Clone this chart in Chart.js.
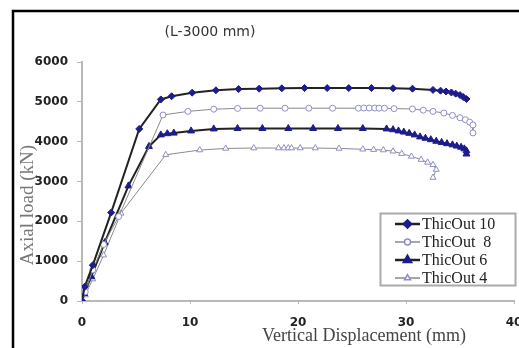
<!DOCTYPE html>
<html>
<head>
<meta charset="utf-8">
<script src="https://cdn.jsdelivr.net/npm/chart.js@4.4.1/dist/chart.umd.min.js"></script>
<style>
  body { margin: 0; background: #fff; }
  canvas { display: block; }
</style>
</head>
<body>
<canvas id="myChart" width="519" height="348"></canvas>
<script>
// values (x = vertical displacement in mm, y = axial load in kN)
var labels = ["ThicOut 10", "ThicOut  8", "ThicOut 6", "ThicOut 4"];

var t10x = [0, 0.25, 1.0, 2.7, 5.3, 7.3, 8.3, 10.2, 12.4, 14.5, 16.4, 18.5, 20.6, 22.7, 24.7, 26.8, 28.8, 30.6, 32.5, 33.2, 33.7, 34.2, 34.6, 35.0, 35.3, 35.6];
var t10y = [0, 360, 900, 2220, 4320, 5060, 5140, 5230, 5290, 5320, 5330, 5340, 5345, 5345, 5345, 5345, 5340, 5330, 5300, 5280, 5260, 5235, 5205, 5170, 5120, 5070];

var t8x = [0, 0.3, 1.0, 2.0, 3.4, 7.5, 9.8, 12.2, 14.4, 16.5, 18.8, 21.0, 23.2, 25.6, 26.1, 26.6, 27.1, 27.5, 28.0, 28.9, 30.6, 31.6, 32.5, 33.5, 34.3, 35.0, 35.5, 35.9, 36.2, 36.2];
var t8y = [0, 230, 780, 1420, 2120, 4670, 4760, 4815, 4835, 4840, 4840, 4840, 4840, 4840, 4845, 4845, 4845, 4840, 4840, 4830, 4820, 4790, 4760, 4720, 4660, 4600, 4550, 4490, 4420, 4220];

var t6x = [0, 0.2, 0.86, 2.1, 4.3, 6.2, 7.3, 7.9, 8.5, 10.1, 12.2, 14.4, 16.7, 19.1, 21.4, 23.7, 26.0, 28.2, 28.8, 29.3, 29.8, 30.3, 30.8, 31.3, 31.8, 32.3, 32.8, 33.3, 33.8, 34.3, 34.7, 35.1, 35.4, 35.6, 35.6];
var t6y = [0, 190, 610, 1465, 2890, 3880, 4170, 4200, 4215, 4270, 4320, 4330, 4330, 4330, 4330, 4330, 4330, 4320, 4300, 4270, 4240, 4210, 4170, 4120, 4085, 4050, 4010, 3980, 3950, 3920, 3890, 3860, 3820, 3770, 3690];

var t4x = [0, 0.3, 1.0, 2.0, 3.6, 7.75, 10.9, 13.3, 15.9, 18.2, 18.7, 19.1, 19.4, 20.2, 21.6, 23.8, 26.0, 27.0, 27.9, 28.8, 29.6, 30.5, 31.4, 32.0, 32.5, 32.8, 32.5];
var t4y = [0, 150, 550, 1150, 2200, 3670, 3790, 3830, 3840, 3840, 3840, 3840, 3840, 3840, 3840, 3830, 3810, 3800, 3790, 3760, 3700, 3630, 3550, 3480, 3420, 3300, 3100];

var xTicks = [0, 10, 20, 30, 40];
var yTicks = [0, 1000, 2000, 3000, 4000, 5000, 6000];

function pts(xs, ys) {
  return xs.map(function (x, i) { return { x: x, y: ys[i] }; });
}

var navy = '#1c1c8c';
var light = '#8e8ec6';

// frame, title, axis titles and legend
var decor = {
  id: 'decor',
  afterDraw: function (chart) {
    var ctx = chart.ctx;
    ctx.save();
    // black frame (left and top)
    ctx.strokeStyle = '#000';
    ctx.lineWidth = 2.5;
    ctx.beginPath();
    ctx.moveTo(13, 348);
    ctx.lineTo(13, 11);
    ctx.lineTo(519, 11);
    ctx.stroke();

    ctx.fillStyle = '#333';
    ctx.font = '14px "DejaVu Sans"';
    ctx.textAlign = 'center';
    ctx.textBaseline = 'middle';
    ctx.fillText('(L-3000 mm)', 210, 32);

    ctx.fillStyle = '#444';
    ctx.font = '18px "Liberation Serif"';
    ctx.fillText('Vertical Displacement (mm)', 364, 336);

    ctx.save();
    ctx.translate(28, 205);
    ctx.rotate(-Math.PI / 2);
    ctx.fillStyle = '#777';
    ctx.font = '19px "Liberation Serif"';
    ctx.fillText('Axial load (kN)', 0, 0);
    ctx.restore();

    // legend
    ctx.fillStyle = '#fff';
    ctx.fillRect(380.5, 213.5, 135, 72);
    ctx.strokeStyle = '#aaa';
    ctx.lineWidth = 2;
    ctx.strokeRect(380.5, 213.5, 135, 72);
    chart.data.datasets.forEach(function (ds, i) {
      var y = 224 + i * 18;
      ctx.strokeStyle = ds.borderColor;
      ctx.lineWidth = ds.borderWidth + 0.5;
      ctx.beginPath();
      ctx.moveTo(395, y);
      ctx.lineTo(420, y);
      ctx.stroke();
      ctx.fillStyle = ds.pointBackgroundColor;
      ctx.strokeStyle = ds.pointBorderColor;
      Chart.helpers.drawPoint(ctx, {
        pointStyle: ds.pointStyle, rotation: 0,
        radius: ds.pointRadius, borderWidth: ds.pointBorderWidth
      }, 407.5, y);
      ctx.fillStyle = '#222';
      ctx.font = '16px "Liberation Serif"';
      ctx.textAlign = 'left';
      ctx.textBaseline = 'middle';
      ctx.fillText(ds.label, 422, y + 1);
    });
    ctx.restore();
  }
};

var ctx = document.getElementById('myChart').getContext('2d');
var chart = new Chart(ctx, {
  type: 'scatter',
  data: {
    datasets: [{
      label: labels[0],
      data: pts(t10x, t10y),
      showLine: true,
      borderColor: '#222',
      borderWidth: 2,
      pointStyle: 'rectRot',
      pointRadius: 3.5,
      pointBackgroundColor: navy,
      pointBorderColor: navy,
      pointBorderWidth: 1
    }, {
      label: labels[1],
      data: pts(t8x, t8y),
      showLine: true,
      borderColor: '#8a8a8a',
      borderWidth: 1,
      pointStyle: 'circle',
      pointRadius: 3,
      pointBackgroundColor: '#fff',
      pointBorderColor: light,
      pointBorderWidth: 1
    }, {
      label: labels[2],
      data: pts(t6x, t6y),
      showLine: true,
      borderColor: '#222',
      borderWidth: 2,
      pointStyle: 'triangle',
      pointRadius: 4,
      pointBackgroundColor: navy,
      pointBorderColor: navy,
      pointBorderWidth: 1
    }, {
      label: labels[3],
      data: pts(t4x, t4y),
      showLine: true,
      borderColor: '#8a8a8a',
      borderWidth: 1,
      pointStyle: 'triangle',
      pointRadius: 3.5,
      pointBackgroundColor: '#fff',
      pointBorderColor: light,
      pointBorderWidth: 1
    }]
  },
  options: {
    responsive: false,
    animation: false,
    layout: { padding: { top: 62, right: 2, left: 0, bottom: 0 } },
    plugins: {
      legend: { display: false },
      title: { display: false },
      tooltip: { enabled: false }
    },
    scales: {
      x: {
        type: 'linear',
        min: 0, max: 40,
        afterBuildTicks: function (s) { s.ticks = xTicks.map(function (v) { return { value: v }; }); },
        afterFit: function (s) { s.height = 47; s.paddingLeft = 0; s.paddingRight = 0; },
        ticks: {
          color: '#222', font: { family: 'DejaVu Sans', size: 12, weight: 'bold' }, padding: 12, maxRotation: 0,
          callback: function (v) { return String(v); }
        },
        grid: { drawOnChartArea: false, tickLength: 3, color: '#b8b8b8' },
        border: { color: '#b8b8b8', width: 2 }
      },
      y: {
        min: 0, max: 6000,
        afterBuildTicks: function (s) { s.ticks = yTicks.map(function (v) { return { value: v }; }); },
        afterFit: function (s) { s.width = 82; s.paddingTop = 0; s.paddingBottom = 0; },
        ticks: {
          color: '#222', font: { family: 'DejaVu Sans', size: 12, weight: 'bold' }, padding: 9,
          callback: function (v) { return String(v); }
        },
        grid: { drawOnChartArea: false, tickLength: 5, color: '#b8b8b8' },
        border: { color: '#b8b8b8', width: 2 }
      }
    }
  },
  plugins: [decor]
});
</script>
</body>
</html>
